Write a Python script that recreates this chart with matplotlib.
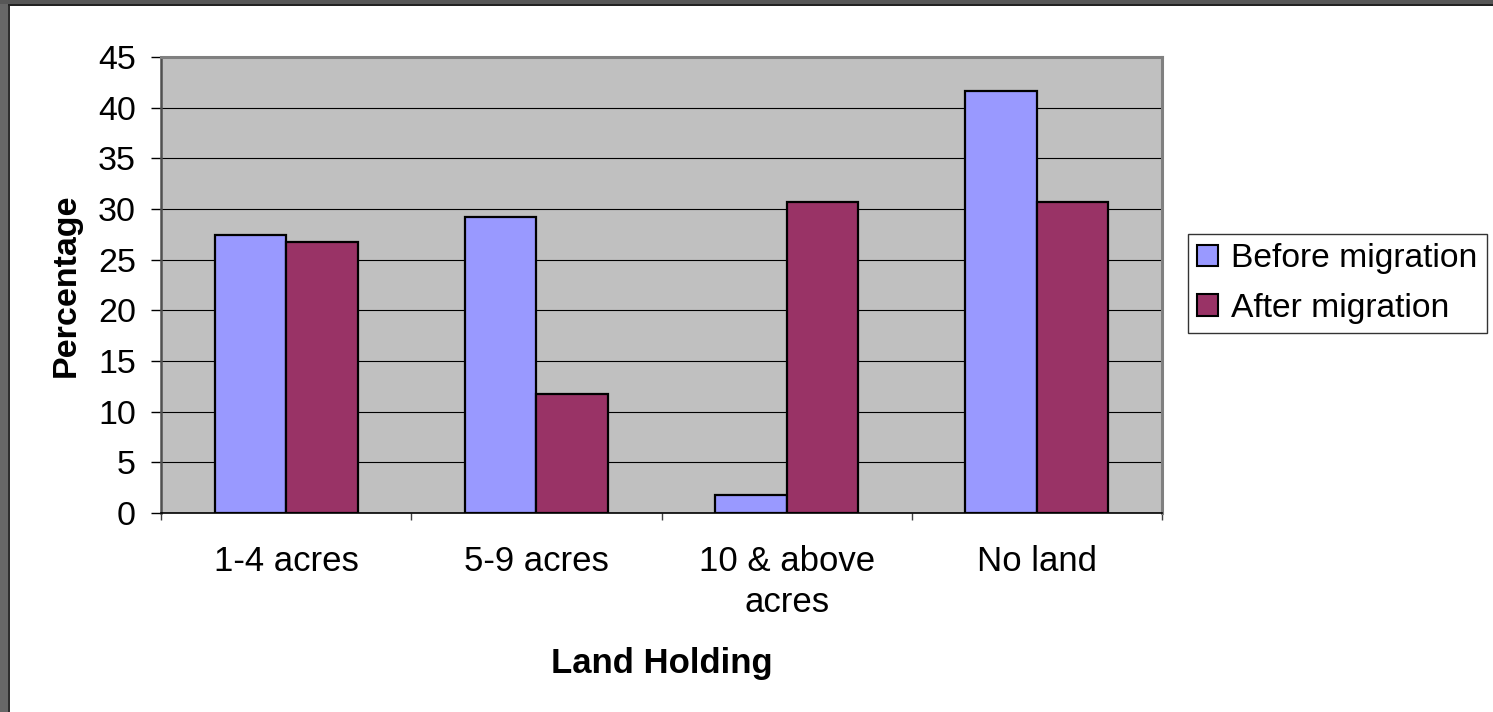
import matplotlib
matplotlib.use("Agg")
import matplotlib.pyplot as plt
from matplotlib.patches import Rectangle
import numpy as np

categories = ["1-4 acres", "5-9 acres", "10 & above\nacres", "No land"]
before = [27.4, 29.25, 1.75, 41.6]
after = [26.7, 11.7, 30.7, 30.7]
series_names = ["Before migration", "After migration"]
yticks = [0, 5, 10, 15, 20, 25, 30, 35, 40, 45]

W, H = 1493, 712
plt.rcParams['font.family'] = ['Liberation Sans', 'DejaVu Sans']

fig = plt.figure(figsize=(W / 100, H / 100), dpi=100)
fig.patch.set_facecolor('white')

L, R, T, B = 161, 1162, 57, 513
ax = fig.add_axes([L / W, 1 - B / H, (R - L) / W, (B - T) / H])
ax.set_facecolor('#c0c0c0')

n = len(categories)
centers = np.arange(n) + 0.5
bw = 1 / 3.5
ax.bar(centers - bw / 2, before, width=bw, color='#9999ff', edgecolor='black',
       linewidth=1.6, label=series_names[0], zorder=3)
ax.bar(centers + bw / 2, after, width=bw, color='#993366', edgecolor='black',
       linewidth=1.6, label=series_names[1], zorder=3)

ax.set_xlim(0, n)
ax.set_ylim(0, 45)
ax.set_yticks(yticks)
ax.yaxis.grid(True, color='black', linewidth=0.8, zorder=1)
ax.set_axisbelow(True)

ax.set_xticks(centers)
ax.set_xticklabels(categories, fontsize=25, linespacing=1.3)
ax.set_xticks(np.arange(n + 1), minor=True)
ax.tick_params(axis='x', which='major', length=0, pad=23)
ax.tick_params(axis='x', which='minor', length=5, width=1, color='#404040', direction='out')
ax.tick_params(axis='y', which='major', length=7, width=1, color='black', pad=11,
               labelsize=24.5)

for s in ['top', 'right']:
    ax.spines[s].set_color('#808080')
    ax.spines[s].set_linewidth(2.2)
ax.spines['left'].set_color('#505050')
ax.spines['left'].set_linewidth(1.8)
ax.spines['bottom'].set_color('black')
ax.spines['bottom'].set_linewidth(1.2)

ax.set_ylabel("Percentage", fontsize=24.5, fontweight='bold')
ax.yaxis.set_label_coords(-0.079, 0.5)
ax.set_xlabel("Land Holding", fontsize=25, fontweight='bold')
ax.xaxis.set_label_coords(0.5, -0.293)

leg = fig.legend(loc='upper left', bbox_to_anchor=(1188 / W, 1 - 234 / H),
                 borderaxespad=0, fontsize=24.2, fancybox=False, frameon=True,
                 edgecolor='black', handlelength=0.6, handleheight=0.6,
                 handletextpad=0.4, borderpad=0.28, labelspacing=0.55)
leg.get_frame().set_linewidth(1.0)
for h in leg.legend_handles:
    h.set_linewidth(1.5)

# window frame strips
fig.patches.append(Rectangle((0, 0), 8 / W, 1, transform=fig.transFigure,
                             facecolor='#676767', edgecolor='none', zorder=10))
fig.patches.append(Rectangle((8 / W, 0), 2 / W, 1 - 4 / H, transform=fig.transFigure,
                             facecolor='#2e2e2e', edgecolor='none', zorder=10))
fig.patches.append(Rectangle((0, 1 - 4 / H), 1, 4 / H, transform=fig.transFigure,
                             facecolor='#575757', edgecolor='none', zorder=10))
fig.patches.append(Rectangle((8 / W, 1 - 5.5 / H), 1, 1.5 / H, transform=fig.transFigure,
                             facecolor='#222222', edgecolor='none', zorder=10))

fig.savefig("out.png", dpi=100, facecolor='white')
